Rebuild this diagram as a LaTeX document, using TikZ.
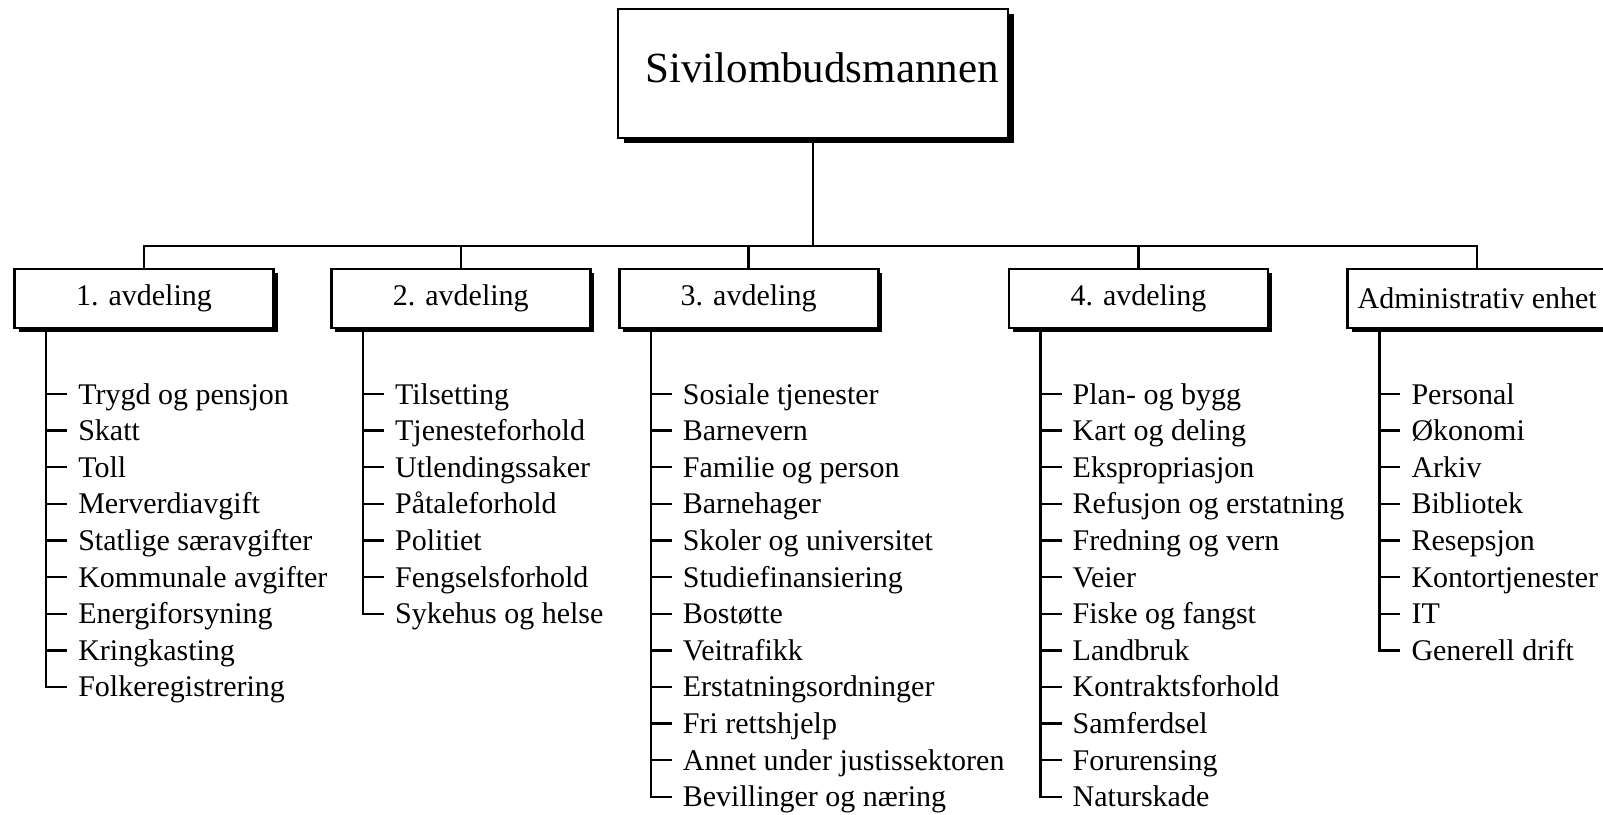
\documentclass[tikz,border=0pt]{standalone}
\usepackage{fontspec}
\setmainfont{Liberation Serif}
\usepackage{tikz}
\usetikzlibrary{positioning,shadows}

\begin{document}
\begin{tikzpicture}[x=1pt,y=-1pt]

 \tikzstyle{chief}=[draw,line width=2.8pt,fill=white,minimum width=390pt,minimum height=129pt,
text height=30pt,text depth=13pt,font=\fontsize{43}{50}\selectfont,
drop shadow={shadow xshift=6pt,shadow yshift=-5pt,fill=black,opacity=1}]
 \tikzstyle{unit}=[draw,line width=2.8pt,fill=white,minimum width=259pt,minimum height=59pt,
inner sep=0pt,font=\fontsize{30}{36}\selectfont,
drop shadow={shadow xshift=4pt,shadow yshift=-4pt,fill=black,opacity=1}]
 \tikzstyle{item}=[anchor=west,inner xsep=11pt,inner ysep=0pt,text height=20pt,text depth=0pt,
font=\fontsize{30}{36}\selectfont]
 \tikzstyle{line}=[line width=2.4pt]

\useasboundingbox (0,0) rectangle (1603,814);

\node[chief] (ombud) at (813,73.5) {\hspace*{18pt}Sivilombudsmannen};

\node[unit] (avd1) at (144,298.5) {1. avdeling};
\node[unit] (avd2) [right=55pt of avd1] {2. avdeling};
\node[unit] (avd3) [right=26pt of avd2] {3. avdeling};
\node[unit] (avd4) [right=128pt of avd3] {4. avdeling};
\node[unit] (admin) [right=77pt of avd4] {Administrativ enhet};

\coordinate (bus) at (814,246);

% Bus down to the units
\foreach \u in {avd1,avd2,avd3,avd4,admin}
  \draw[line] (ombud.south) |- (\u.north |- bus) -- (\u.north);

% Branch points under each unit
\coordinate (b1) at ([xshift=33pt]avd1.south west);
\coordinate (b2) at ([xshift=33pt]avd2.south west);
\coordinate (b3) at ([xshift=33pt]avd3.south west);
\coordinate (b4) at ([xshift=33pt]avd4.south west);
\coordinate (b5) at ([xshift=33pt]admin.south west);

% 1. avdeling
\foreach \t [count=\i] in {Trygd og pensjon,Skatt,Toll,Merverdiavgift,Statlige særavgifter,
  Kommunale avgifter,Energiforsyning,Kringkasting,Folkeregistrering}{
  \pgfmathsetmacro\yy{394+36.62*(\i-1)}
  \node[item] (a1-\i) at ([xshift=21pt]b1 |- 0,\yy) {\t};
  \draw[line] (b1 |- a1-\i.west) -- (a1-\i.west);
}
\draw[line] (b1) |- (a1-9.west);

% 2. avdeling
\foreach \t [count=\i] in {Tilsetting,Tjenesteforhold,Utlendingssaker,Påtaleforhold,Politiet,
  Fengselsforhold,Sykehus og helse}{
  \pgfmathsetmacro\yy{394+36.62*(\i-1)}
  \node[item] (a2-\i) at ([xshift=21pt]b2 |- 0,\yy) {\t};
  \draw[line] (b2 |- a2-\i.west) -- (a2-\i.west);
}
\draw[line] (b2) |- (a2-7.west);

% 3. avdeling
\foreach \t [count=\i] in {Sosiale tjenester,Barnevern,Familie og person,Barnehager,
  Skoler og universitet,Studiefinansiering,Bostøtte,Veitrafikk,Erstatningsordninger,
  Fri rettshjelp,Annet under justissektoren,Bevillinger og næring}{
  \pgfmathsetmacro\yy{394+36.62*(\i-1)}
  \node[item] (a3-\i) at ([xshift=21pt]b3 |- 0,\yy) {\t};
  \draw[line] (b3 |- a3-\i.west) -- (a3-\i.west);
}
\draw[line] (b3) |- (a3-12.west);

% 4. avdeling
\foreach \t [count=\i] in {Plan- og bygg,Kart og deling,Ekspropriasjon,Refusjon og erstatning,
  Fredning og vern,Veier,Fiske og fangst,Landbruk,Kontraktsforhold,Samferdsel,
  Forurensing,Naturskade}{
  \pgfmathsetmacro\yy{394+36.62*(\i-1)}
  \node[item] (a4-\i) at ([xshift=21pt]b4 |- 0,\yy) {\t};
  \draw[line] (b4 |- a4-\i.west) -- (a4-\i.west);
}
\draw[line] (b4) |- (a4-12.west);

% Administrativ enhet
\foreach \t [count=\i] in {Personal,Økonomi,Arkiv,Bibliotek,Resepsjon,Kontortjenester,
  IT,Generell drift}{
  \pgfmathsetmacro\yy{394+36.62*(\i-1)}
  \node[item] (a5-\i) at ([xshift=21pt]b5 |- 0,\yy) {\t};
  \draw[line] (b5 |- a5-\i.west) -- (a5-\i.west);
}
\draw[line] (b5) |- (a5-8.west);

\end{tikzpicture}
\end{document}
